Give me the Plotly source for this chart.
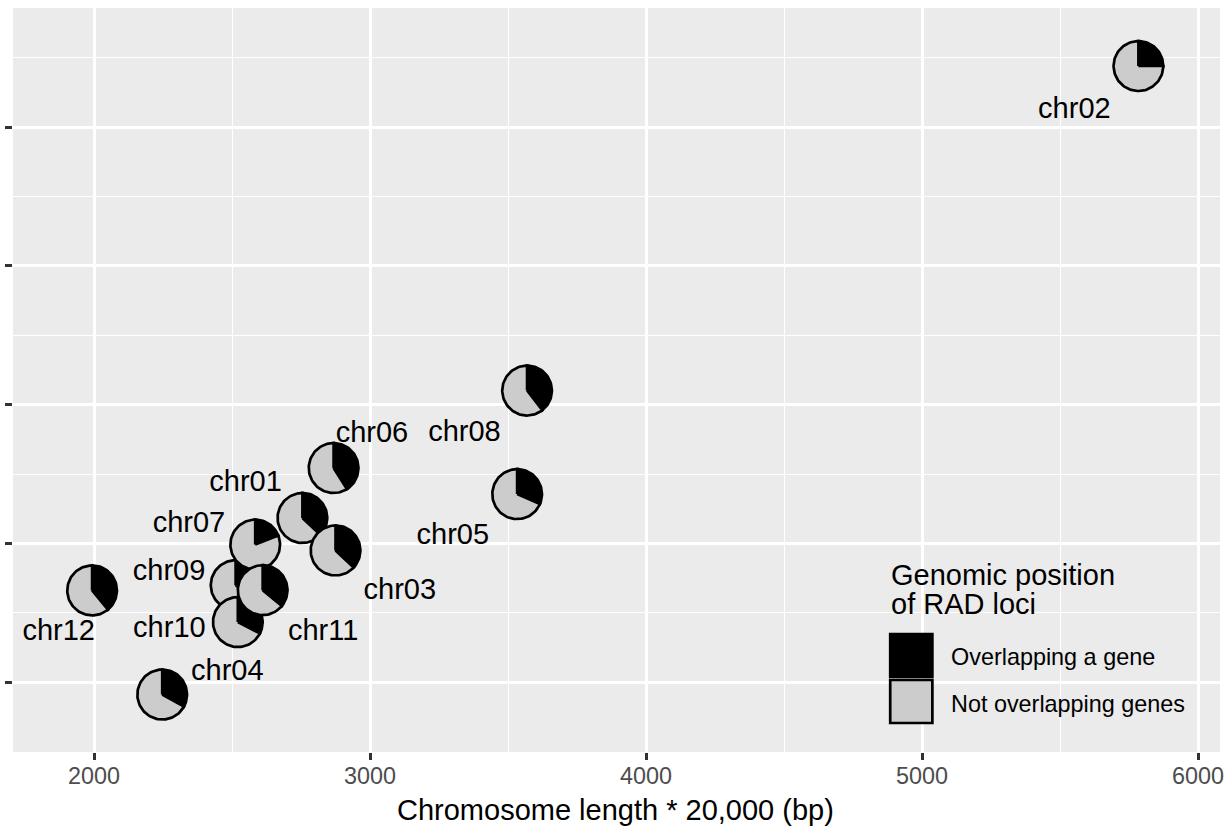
import numpy as np
import plotly.graph_objects as go

# ---------------- data ----------------
chromosomes = ["chr01", "chr02", "chr03", "chr04", "chr05", "chr06",
               "chr07", "chr08", "chr09", "chr10", "chr11", "chr12"]
chrom_length = [2755, 5784, 2875, 2247, 3533, 2868, 2584, 3569, 2513, 2521, 2611, 1993]
loci_y = [1592, 3220, 1475, 956, 1678, 1772, 1496, 2051, 1350, 1217, 1332, 1331]
overlap_frac = [0.37, 0.25, 0.37, 0.33, 0.315, 0.41, 0.19, 0.395, 0.35, 0.325, 0.36, 0.39]
# repelled label positions (data units)
label_x = [2549, 5552, 3108, 2483, 3300, 3007, 2344, 3342, 2272, 2273, 2830, 1872]
label_y = [1716, 3060, 1325, 1034, 1525, 1893, 1567, 1896, 1396, 1188, 1178, 1179]
categories = ["Overlapping a gene", "Not overlapping genes"]
x_ticks = [2000, 3000, 4000, 5000, 6000]
x_minor = [2500, 3500, 4500, 5500]
y_ticks = [1000, 1500, 2000, 2500, 3000]
y_minor = [1250, 1750, 2250, 2750, 3250]

# ---------------- style ----------------
W, H = 1230, 833
ML, MR, MT, MB = 10, 6, 8, 81
XR = [1706.4, 6079.6]
YR = [749, 3429]
PIE_R = 90
LW = 2.7
colors = {"Overlapping a gene": "#000000", "Not overlapping genes": "#CCCCCC"}
FONT = "Liberation Sans, Arial, Helvetica, sans-serif"
draw_order = [0, 1, 2, 3, 4, 5, 7, 8, 6, 9, 10, 11]


def wedge(cx, cy, r, a0, a1):
    n = max(4, int(120 * (a1 - a0) / (2 * np.pi)) + 2)
    th = np.linspace(a0, a1, n)
    xs = np.concatenate([[cx], cx + r * np.sin(th), [cx]])
    ys = np.concatenate([[cy], cy + r * np.cos(th), [cy]])
    return xs, ys


fig = go.Figure()

for i in draw_order:
    cx, cy, f = chrom_length[i], loci_y[i], overlap_frac[i]
    parts = [(categories[0], 0, f * 2 * np.pi), (categories[1], f * 2 * np.pi, 2 * np.pi)]
    for cat, a0, a1 in parts:
        xs, ys = wedge(cx, cy, PIE_R, a0, a1)
        fig.add_trace(go.Scatter(
            x=xs, y=ys, mode="lines", fill="toself",
            fillcolor=colors[cat], line=dict(color="black", width=LW),
            hoverinfo="text", text=f"{chromosomes[i]}: {cat}",
            showlegend=False))

fig.add_trace(go.Scatter(
    x=label_x, y=label_y, mode="text", text=chromosomes,
    textposition="middle center",
    textfont=dict(family=FONT, size=29, color="black"),
    showlegend=False, hoverinfo="skip"))

# ---------------- legend (drawn manually, inside panel) ----------------
PW = W - ML - MR
PH = H - MT - MB


def px(xp):
    return (xp - ML) / PW


def py(yp):
    return (H - MB - yp) / PH


shapes = []
key_tops = [634, 680]
for cat, top in zip(categories, key_tops):
    shapes.append(dict(type="rect", xref="paper", yref="paper",
                       x0=px(892.3), x1=px(934.7), y0=py(top + 43), y1=py(top),
                       fillcolor=colors[cat], line=dict(color="black", width=LW)))

annotations = [
    dict(text="Genomic position", x=px(891), y=py(575)),
    dict(text="of RAD loci", x=px(891), y=py(603.5)),
]
annotations = [dict(a, xref="paper", yref="paper", xanchor="left", yanchor="middle",
                    showarrow=False, font=dict(family=FONT, size=29, color="black"))
               for a in annotations]
for cat, yc in zip(categories, [656.5, 703.5]):
    annotations.append(dict(text=cat, x=px(951.5), y=py(yc), xref="paper", yref="paper",
                            xanchor="left", yanchor="middle", showarrow=False,
                            font=dict(family=FONT, size=23.4, color="black")))
annotations.append(dict(text="Chromosome length * 20,000 (bp)", x=px(616), y=py(810),
                        xref="paper", yref="paper", xanchor="center", yanchor="middle",
                        showarrow=False, font=dict(family=FONT, size=29, color="black")))

fig.update_layout(
    width=W, height=H, autosize=False,
    margin=dict(l=ML, r=MR, t=MT, b=MB, pad=0),
    paper_bgcolor="white", plot_bgcolor="#EBEBEB",
    font=dict(family=FONT),
    shapes=shapes, annotations=annotations,
    showlegend=False,
    xaxis=dict(range=XR, tickmode="array", tickvals=x_ticks,
               ticktext=[str(v) for v in x_ticks],
               ticks="outside", ticklen=7, tickwidth=2.7, tickcolor="#333333",
               ticklabelstandoff=-4,
               tickfont=dict(family=FONT, size=23.4, color="#4D4D4D"),
               showgrid=True, gridcolor="white", gridwidth=2.7,
               minor=dict(tickvals=x_minor, showgrid=True, gridcolor="white",
                          gridwidth=1.35, ticks=""),
               zeroline=False, showline=False, fixedrange=True),
    yaxis=dict(range=YR, tickmode="array", tickvals=y_ticks,
               ticks="outside", ticklen=7, tickwidth=2.7, tickcolor="#333333",
               showticklabels=False,
               showgrid=True, gridcolor="white", gridwidth=2.7,
               minor=dict(tickvals=y_minor, showgrid=True, gridcolor="white",
                          gridwidth=1.35, ticks=""),
               zeroline=False, showline=False, fixedrange=True),
)

fig.write_html("out.html", config={"displayModeBar": False},
               post_script="document.body.style.margin='0';document.body.style.padding='0';")
